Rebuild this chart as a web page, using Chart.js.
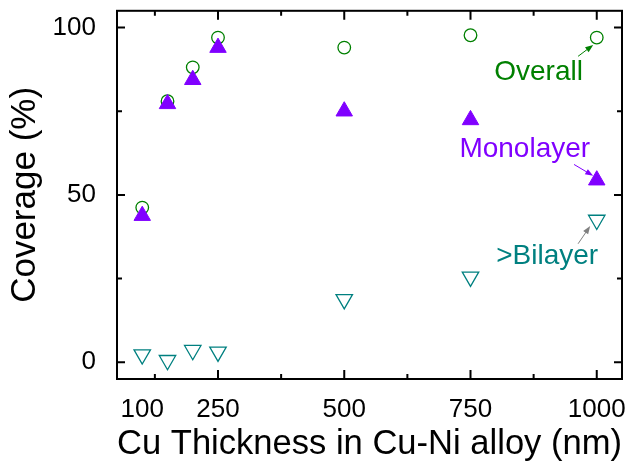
<!DOCTYPE html>
<html>
<head>
<meta charset="utf-8">
<script src="https://cdn.jsdelivr.net/npm/chart.js@4.4.0/dist/chart.umd.min.js"></script>
<style>
  html, body { margin: 0; padding: 0; background: #fff; }
</style>
</head>
<body>
<canvas id="chartCoverage" width="637" height="470"></canvas>
<script>
// Coverage vs Cu thickness
const thickness = [100, 150, 200, 250, 500, 750, 1000];
const overall   = [46.2, 78.0, 88.1, 97.0, 94.0, 97.7, 97.0];
const monolayer = [43.8, 77.2, 84.4, 94.0, 75.0, 72.4, 54.4];
const bilayer   = [2.3, 0.6, 3.6, 3.1, 18.8, 25.5, 42.5];

const xTickLabels = [100, 250, 500, 750, 1000];
const xMajorTicks = [250, 500, 750, 1000];
const xMinorTicks = [125, 375, 625, 875];
const yTickLabels = [0, 50, 100];
const yMinorTicks = [25, 75];

const GREEN = '#008000';
const VIOLET = '#8000ff';
const CYAN = '#008080';
const FONT = "'Liberation Sans', Arial, sans-serif";

// labels + arrows, in data units
const notes = [
    { text: 'Overall',   color: GREEN,  x: 797, y: 84.4, arrow: [963, 91.4, 993, 94.8], arrowColor: GREEN },
    { text: 'Monolayer', color: VIOLET, x: 728, y: 61.3, arrow: [955, 59.1, 993, 55.7], arrowColor: VIOLET },
    { text: '>Bilayer',  color: CYAN,   x: 801, y: 29.4, arrow: [963, 35.4, 987, 40.7], arrowColor: '#808080' }
];

function pts(ys) {
    return thickness.map((x, i) => ({ x: x, y: ys[i] }));
}

// frame with inward ticks on all four sides
const frameTicks = {
    id: 'frameTicks',
    afterDraw(chart) {
        const { ctx, chartArea: a, scales: { x, y } } = chart;
        ctx.save();
        ctx.strokeStyle = '#000';
        ctx.lineWidth = 2;
        ctx.strokeRect(a.left, a.top, a.right - a.left, a.bottom - a.top);
        ctx.beginPath();
        const xt = (v, len) => {
            const px = x.getPixelForValue(v);
            ctx.moveTo(px, a.bottom); ctx.lineTo(px, a.bottom - len);
            ctx.moveTo(px, a.top); ctx.lineTo(px, a.top + len);
        };
        const yt = (v, len) => {
            const py = y.getPixelForValue(v);
            ctx.moveTo(a.left, py); ctx.lineTo(a.left + len, py);
            ctx.moveTo(a.right, py); ctx.lineTo(a.right - len, py);
        };
        xMajorTicks.forEach(v => xt(v, 9));
        xMinorTicks.forEach(v => xt(v, 5));
        yTickLabels.forEach(v => yt(v, 8));
        yMinorTicks.forEach(v => yt(v, 5));
        ctx.stroke();
        ctx.restore();
    }
};

const notesPlugin = {
    id: 'notes',
    afterDatasetsDraw(chart) {
        const { ctx, scales: { x, y } } = chart;
        ctx.save();
        ctx.font = '28px ' + FONT;
        ctx.textAlign = 'left';
        ctx.textBaseline = 'alphabetic';
        notes.forEach(n => {
            ctx.fillStyle = n.color;
            ctx.fillText(n.text, x.getPixelForValue(n.x), y.getPixelForValue(n.y));

            const x0 = x.getPixelForValue(n.arrow[0]), y0 = y.getPixelForValue(n.arrow[1]);
            const x1 = x.getPixelForValue(n.arrow[2]), y1 = y.getPixelForValue(n.arrow[3]);
            const ang = Math.atan2(y1 - y0, x1 - x0);
            ctx.strokeStyle = n.arrowColor;
            ctx.fillStyle = n.arrowColor;
            ctx.lineWidth = 1;
            ctx.beginPath();
            ctx.moveTo(x0, y0);
            ctx.lineTo(x1 - 6 * Math.cos(ang), y1 - 6 * Math.sin(ang));
            ctx.stroke();
            ctx.beginPath();
            ctx.moveTo(x1, y1);
            ctx.lineTo(x1 - 8 * Math.cos(ang) + 3 * Math.sin(ang), y1 - 8 * Math.sin(ang) - 3 * Math.cos(ang));
            ctx.lineTo(x1 - 8 * Math.cos(ang) - 3 * Math.sin(ang), y1 - 8 * Math.sin(ang) + 3 * Math.cos(ang));
            ctx.closePath();
            ctx.fill();
        });
        ctx.restore();
    }
};

new Chart(document.getElementById('chartCoverage'), {
    type: 'scatter',
    data: {
        datasets: [
            {
                label: 'Monolayer',
                data: pts(monolayer),
                pointStyle: 'triangle',
                pointRadius: 9.5,
                backgroundColor: VIOLET,
                borderColor: VIOLET,
                borderWidth: 1,
                order: 0
            },
            {
                label: 'Overall',
                data: pts(overall),
                pointStyle: 'circle',
                pointRadius: 6.3,
                backgroundColor: 'rgba(0,0,0,0)',
                borderColor: GREEN,
                borderWidth: 1.3,
                order: 1
            },
            {
                label: '>Bilayer',
                data: pts(bilayer),
                pointStyle: 'triangle',
                pointRotation: 180,
                pointRadius: 9.5,
                backgroundColor: 'rgba(0,0,0,0)',
                borderColor: CYAN,
                borderWidth: 1.3,
                order: 2
            }
        ]
    },
    options: {
        responsive: false,
        animation: false,
        layout: { padding: { top: 7, right: 15, left: 0, bottom: 0 } },
        plugins: {
            legend: { display: false },
            tooltip: { enabled: false }
        },
        scales: {
            x: {
                type: 'linear',
                min: 50,
                max: 1050,
                grid: { display: false },
                border: { display: false },
                afterBuildTicks: s => { s.ticks = xTickLabels.map(v => ({ value: v })); },
                afterFit: s => { s.height = 91; s.paddingLeft = 0; s.paddingRight = 0; },
                ticks: {
                    color: '#000',
                    padding: 7,
                    maxRotation: 0,
                    autoSkip: false,
                    callback: v => String(v),
                    font: { family: FONT, size: 26 }
                },
                title: {
                    display: true,
                    text: 'Cu Thickness in Cu-Ni alloy (nm)',
                    color: '#000',
                    padding: { top: 0, bottom: 5 },
                    font: { family: FONT, size: 35 }
                }
            },
            y: {
                type: 'linear',
                min: -5,
                max: 105,
                grid: { display: false },
                border: { display: false },
                afterBuildTicks: s => { s.ticks = yTickLabels.map(v => ({ value: v })); },
                afterFit: s => { s.width = 117; s.paddingTop = 0; s.paddingBottom = 0; },
                ticks: {
                    color: '#000',
                    padding: 13,
                    autoSkip: false,
                    callback: v => String(v),
                    font: { family: FONT, size: 26 }
                },
                title: {
                    display: true,
                    text: 'Coverage (%)',
                    color: '#000',
                    padding: { top: 4, bottom: 0 },
                    font: { family: FONT, size: 35 }
                }
            }
        }
    },
    plugins: [frameTicks, notesPlugin]
});
</script>
</body>
</html>
